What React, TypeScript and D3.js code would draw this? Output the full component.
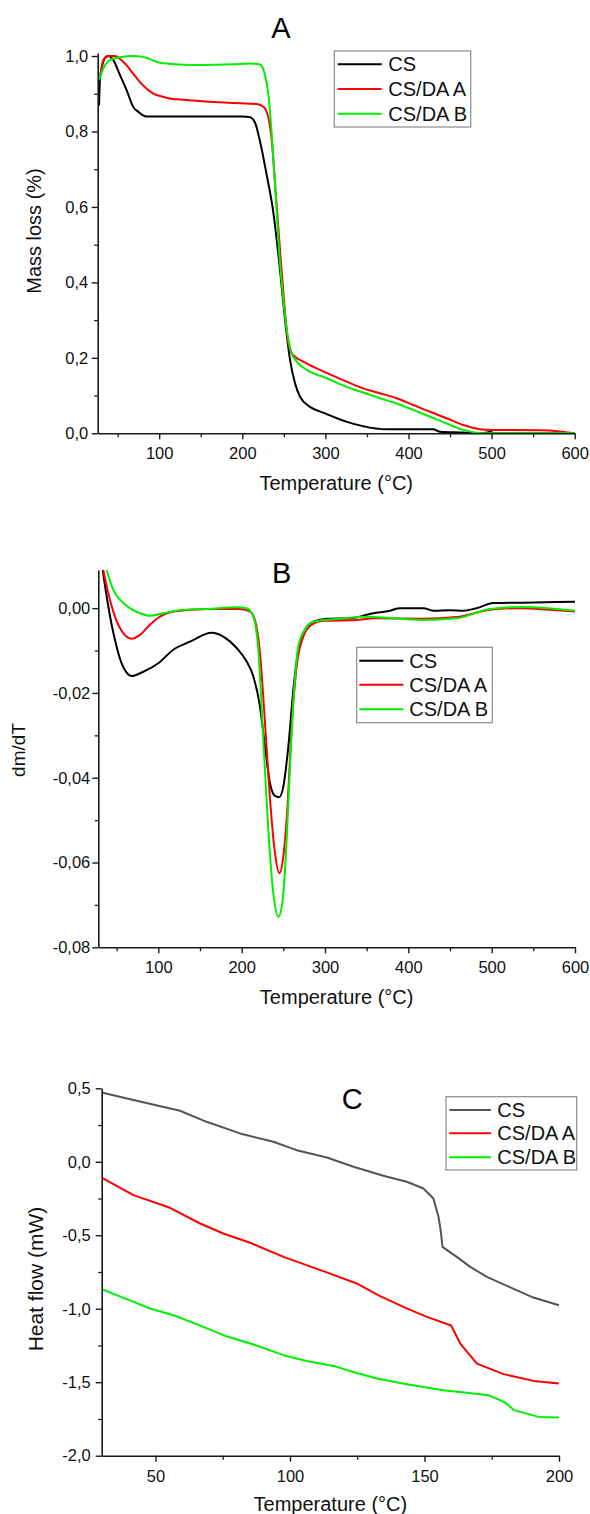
import React, { useEffect, useRef } from "react";
import * as d3 from "d3";

type Pt = [number, number];

const seriesNames = ["CS", "CS/DA A", "CS/DA B"];

// ---- Panel A: TGA (mass loss vs temperature)
const tgaCS: Pt[] = [
  [27.6, 0.869], [28.9, 0.944], [32.7, 0.984], [36.8, 0.999], [38.8, 1.0], [44.8, 0.989],
  [52.9, 0.949], [60.9, 0.909], [68.8, 0.865], [74.9, 0.852], [83.8, 0.84], [120, 0.84],
  [160, 0.84], [200, 0.84], [209, 0.838], [215, 0.825], [221, 0.777], [229, 0.689],
  [237, 0.591], [245, 0.441], [251, 0.309], [257.5, 0.194], [263.4, 0.133], [269.5, 0.097],
  [281.5, 0.07], [299.5, 0.053], [325, 0.031], [345, 0.019], [373.8, 0.0106], [430, 0.0106],
  [438, 0.004], [466, 0.002], [485, 0], [495, 0.002], [499, 0.005], [502, 0], [600, 0],
];
const tgaA: Pt[] = [
  [27.6, 0.944], [28.9, 0.949], [32.7, 0.989], [36, 0.997], [40, 1.0], [46.8, 1.0],
  [53, 0.992], [60.9, 0.975], [68, 0.955], [76.9, 0.931], [85, 0.913], [92.9, 0.9],
  [101, 0.894], [117, 0.886], [125, 0.885], [165, 0.878], [205, 0.874], [217, 0.873],
  [223, 0.869], [227.3, 0.861], [231.3, 0.838], [235.4, 0.777], [239.4, 0.662],
  [245.4, 0.485], [250.2, 0.353], [255.4, 0.238], [258, 0.218], [261.4, 0.207],
  [273.4, 0.19], [293.5, 0.168], [325.6, 0.137], [345.6, 0.119], [365.7, 0.106],
  [385.8, 0.093], [405.8, 0.075], [425.9, 0.057], [446, 0.04], [466, 0.022], [486, 0.011],
  [502, 0.009], [558, 0.008], [582, 0.005], [600, 0],
];
const tgaB: Pt[] = [
  [27.6, 0.936], [32.7, 0.967], [40.8, 0.989], [52.8, 0.997], [68.9, 1.0], [77, 0.999],
  [85, 0.995], [93, 0.988], [101, 0.982], [115, 0.979], [129, 0.977], [155, 0.976],
  [169, 0.977], [190, 0.978], [209, 0.98], [218, 0.979], [221, 0.978], [224, 0.972],
  [227.3, 0.95], [231.3, 0.9], [235.4, 0.794], [239.4, 0.662], [244.2, 0.485],
  [249.4, 0.353], [254.2, 0.265], [259.4, 0.212], [265.5, 0.19], [277.5, 0.168],
  [301.6, 0.146], [325.6, 0.123], [345.6, 0.108], [365.7, 0.093], [385.8, 0.079],
  [405.8, 0.062], [426, 0.044], [446, 0.026], [466, 0.009], [480, 0.002], [490, 0], [600, 0],
];

// ---- Panel B: DTG (dm/dT vs temperature)
const dtgCS: Pt[] = [
  [33.3, 0.009], [40, 0.0004], [48, -0.0075], [56, -0.013], [62, -0.0152], [68, -0.016],
  [82, -0.015], [100, -0.013], [118, -0.0098], [138, -0.0079], [164, -0.0058], [178, -0.0067],
  [194, -0.0094], [206, -0.0126], [214, -0.0161], [222, -0.0232], [228, -0.0327],
  [234, -0.0413], [240, -0.0443], [245, -0.0446], [250, -0.0421], [256, -0.0327],
  [262, -0.0193], [268, -0.0098], [276, -0.0051], [286, -0.0032], [302, -0.0025],
  [330, -0.0024], [358, -0.0012], [378, -0.0006], [390, 0], [418, 0], [430, -0.0006],
  [450, -0.0005], [466, -0.0006], [482, 0], [502, 0.0012], [538, 0.0013], [600, 0.0015],
];
const dtgA: Pt[] = [
  [34, 0.009], [40, 0.0035], [48, -0.002], [58, -0.0059], [68, -0.0072], [78, -0.0063],
  [90, -0.0039], [102, -0.002], [118, -0.0008], [158, -0.0002], [198, -0.0002], [210, -0.0008],
  [216, -0.0028], [222, -0.0106], [228, -0.027], [234, -0.045], [240, -0.0578],
  [245.2, -0.0625], [250, -0.0586], [255, -0.0468], [260, -0.0279], [266, -0.0138],
  [274, -0.0067], [284, -0.0039], [298, -0.003], [338, -0.0028], [358, -0.0024],
  [418, -0.0025], [458, -0.0021], [498, -0.0004], [534, 0], [578, -0.0005], [600, -0.0008],
];
const dtgB: Pt[] = [
  [38, 0.009], [46, 0.0043], [54, 0.002], [66, 0], [78, -0.0012], [90, -0.0018],
  [106, -0.0012], [130, -0.0004], [158, -0.0002], [194, 0.0002], [206, 0], [214, -0.002],
  [220, -0.0098], [226, -0.031], [232, -0.0523], [238, -0.0673], [244, -0.0728],
  [249.3, -0.0688], [254, -0.0547], [258, -0.0374], [263, -0.0193], [268, -0.0091],
  [276, -0.0051], [286, -0.0032], [318, -0.0025], [350, -0.002], [418, -0.0028],
  [458, -0.0024], [498, -0.0002], [538, 0.0003], [600, -0.0006],
];

// ---- Panel C: DSC (heat flow vs temperature)
const dscCS: Pt[] = [
  [30, 0.472], [41.8, 0.42], [59.1, 0.347], [69, 0.272], [81.4, 0.193], [93.8, 0.136],
  [102.5, 0.079], [113.7, 0.029], [123.6, -0.034], [134.7, -0.095], [143.4, -0.136],
  [149.6, -0.182], [153.3, -0.25], [155.2, -0.374], [156, -0.465], [156.7, -0.579],
  [162, -0.647], [167, -0.715], [173.2, -0.783], [181.9, -0.855], [190.5, -0.924], [200, -0.976],
];
const dscA: Pt[] = [
  [30, -0.107], [41.8, -0.227], [55.4, -0.313], [66.6, -0.42], [75.2, -0.488], [85.2, -0.551],
  [97.6, -0.647], [112.4, -0.744], [124.8, -0.828], [133.5, -0.914], [143.4, -0.998],
  [150.9, -1.055], [159.9, -1.114], [163.3, -1.237], [169.5, -1.373], [179.4, -1.445],
  [190.5, -1.491], [200, -1.509],
];
const dscB: Pt[] = [
  [30, -0.867], [39.3, -0.935], [48, -0.998], [56.7, -1.044], [65.3, -1.105], [75.2, -1.18],
  [86.4, -1.243], [97.6, -1.316], [106.2, -1.355], [116.2, -1.389], [123.6, -1.43],
  [132.3, -1.475], [143.4, -1.514], [157, -1.554], [165.7, -1.572], [173.8, -1.588],
  [180, -1.638], [183.3, -1.69], [192.4, -1.736], [200, -1.74],
];

// ---- Tick values
const xMajorTGA = [100, 200, 300, 400, 500, 600];
const xMinorTGA = [50, 150, 250, 350, 450, 550];
const yMajorA = [0, 0.2, 0.4, 0.6, 0.8, 1.0];
const yMinorA = [0.1, 0.3, 0.5, 0.7, 0.9];
const yMajorB = [0, -0.02, -0.04, -0.06, -0.08];
const yMinorB = [-0.01, -0.03, -0.05, -0.07];
const xMajorC = [50, 100, 150, 200];
const xMinorC = [75, 125, 175];
const yMajorC = [0.5, 0, -0.5, -1, -1.5, -2];
const yMinorC = [0.25, -0.25, -0.75, -1.25, -1.75];

const FONT = "'Liberation Sans', Arial, Helvetica, sans-serif";
const AX = "#1a1a1a";
const RED = "#ff0000";
const GREEN = "#00f000";

const panels = [
  {
    letter: "A", letterX: 281, letterY: 38,
    xDomain: [26, 600], yDomain: [0, 1.008],
    left: 97.7, right: 574.7, bottom: 433.3, top: 53,
    xMajor: xMajorTGA, xMinor: xMinorTGA, yMajor: yMajorA, yMinor: yMinorA,
    yFmt: ".1f", yPad: 3.5,
    yLabel: "Mass loss (%)", yLabelX: 41, yLabelY: 231, yLabelSize: 20,
    xLabelY: 490,
    curve: d3.curveMonotoneX,
    colors: ["#000000", RED, GREEN],
    data: [tgaCS, tgaA, tgaB],
    legend: { x0: 334.3, y0: 51, x1: 470.7, y1: 127, rows: [64.3, 89, 113.7], lx0: 337.7, lx1: 381.7, tx: 388.3 },
  },
  {
    letter: "B", letterX: 281.7, letterY: 582.7,
    xDomain: [28, 600], yDomain: [-0.08, 0.009],
    left: 98.3, right: 575, bottom: 947.3, top: 570,
    xMajor: xMajorTGA, xMinor: xMinorTGA, yMajor: yMajorB, yMinor: yMinorB,
    yFmt: ".2f", yPad: 2,
    yLabel: "dm/dT", yLabelX: 25, yLabelY: 750, yLabelSize: 19,
    xLabelY: 1004,
    curve: d3.curveMonotoneX,
    colors: ["#000000", RED, GREEN],
    data: [dtgCS, dtgA, dtgB],
    legend: { x0: 356.7, y0: 647.3, x1: 492.3, y1: 722.7, rows: [660.7, 684.7, 709.3], lx0: 359.3, lx1: 403.3, tx: 409.3 },
  },
  {
    letter: "C", letterX: 352.3, letterY: 1109.3,
    xDomain: [30, 200], yDomain: [-2, 0.5],
    left: 101.7, right: 559, bottom: 1455.7, top: 1088.3,
    xMajor: xMajorC, xMinor: xMinorC, yMajor: yMajorC, yMinor: yMinorC,
    yFmt: ".1f", yPad: 5,
    yLabel: "Heat flow (mW)", yLabelX: 43, yLabelY: 1279, yLabelSize: 21,
    xLabelY: 1511,
    curve: d3.curveLinear,
    colors: ["#555555", RED, GREEN],
    data: [dscCS, dscA, dscB],
    legend: { x0: 446, y0: 1096.7, x1: 576.7, y1: 1170, rows: [1110, 1133.3, 1157.3], lx0: 449.3, lx1: 491, tx: 497.3 },
  },
];

const TICK_FS = 16.5;
const LEGEND_FS = 20;

export default function App() {
  const ref = useRef<SVGSVGElement>(null);

  useEffect(() => {
    const svg = d3.select(ref.current);
    svg.selectAll("*").remove();
    const defs = svg.append("defs");

    panels.forEach((p, i) => {
      const x = d3.scaleLinear().domain(p.xDomain).range([p.left, p.right]);
      const y = d3.scaleLinear().domain(p.yDomain).range([p.bottom, p.top]);
      const clipId = `clip-${i}`;
      defs.append("clipPath").attr("id", clipId).append("rect")
        .attr("x", p.left).attr("y", p.top - 1)
        .attr("width", p.right - p.left + 2).attr("height", p.bottom - p.top + 2);

      const fmt = (v: number) => d3.format(p.yFmt)(v).replace(".", ",").replace("\u2212", "-");

      // curves
      const line = d3.line<Pt>().x((d) => x(d[0])).y((d) => y(d[1])).curve(p.curve);
      p.data.forEach((s, k) => {
        svg.append("path")
          .attr("d", line(s) as string)
          .attr("fill", "none")
          .attr("stroke", p.colors[k])
          .attr("stroke-width", 2)
          .attr("stroke-linejoin", "round")
          .attr("clip-path", `url(#${clipId})`);
      });

      // minor ticks
      const ymin = svg.append("g").attr("transform", `translate(${p.left},0)`)
        .call(d3.axisLeft(y).tickValues(p.yMinor).tickSize(3.5).tickSizeOuter(0).tickFormat(() => ""));
      ymin.select(".domain").remove();
      ymin.selectAll(".tick line").attr("stroke", AX).attr("stroke-width", 1.3);
      const xmin = svg.append("g").attr("transform", `translate(0,${p.bottom})`)
        .call(d3.axisBottom(x).tickValues(p.xMinor).tickSize(4).tickSizeOuter(0).tickFormat(() => ""));
      xmin.select(".domain").remove();
      xmin.selectAll(".tick line").attr("stroke", AX).attr("stroke-width", 1.3);

      // major axes
      const ya = svg.append("g").attr("transform", `translate(${p.left},0)`)
        .call(d3.axisLeft(y).tickValues(p.yMajor).tickSize(6).tickSizeOuter(0).tickPadding(p.yPad).tickFormat(fmt as any));
      ya.attr("font-family", null).attr("font-size", null);
      ya.select(".domain").attr("stroke", AX).attr("stroke-width", 1.6);
      ya.selectAll(".tick line").attr("stroke", AX).attr("stroke-width", 1.4);
      ya.selectAll("text").attr("font-family", FONT).attr("font-size", TICK_FS).attr("fill", "#111");

      const xPad = 26 - 6 - 0.71 * TICK_FS;
      const xa = svg.append("g").attr("transform", `translate(0,${p.bottom})`)
        .call(d3.axisBottom(x).tickValues(p.xMajor).tickSize(6).tickSizeOuter(0).tickPadding(xPad).tickFormat(d3.format("d") as any));
      xa.attr("font-family", null).attr("font-size", null);
      xa.select(".domain").attr("stroke", AX).attr("stroke-width", 1.6);
      xa.selectAll(".tick line").attr("stroke", AX).attr("stroke-width", 1.4);
      xa.selectAll("text").attr("font-family", FONT).attr("font-size", TICK_FS).attr("fill", "#111");

      // axis titles
      svg.append("text")
        .attr("x", (p.left + p.right) / 2)
        .attr("y", p.xLabelY)
        .attr("text-anchor", "middle")
        .attr("font-family", FONT).attr("font-size", 20).attr("fill", "#111")
        .text("Temperature (°C)");
      svg.append("text")
        .attr("transform", `translate(${p.yLabelX},${p.yLabelY}) rotate(-90)`)
        .attr("text-anchor", "middle")
        .attr("font-family", FONT).attr("font-size", p.yLabelSize).attr("fill", "#111")
        .text(p.yLabel);

      // panel letter
      svg.append("text")
        .attr("x", p.letterX).attr("y", p.letterY)
        .attr("text-anchor", "middle")
        .attr("font-family", FONT).attr("font-size", 29).attr("fill", "#000")
        .text(p.letter);

      // legend
      const L = p.legend;
      svg.append("rect")
        .attr("x", L.x0).attr("y", L.y0)
        .attr("width", L.x1 - L.x0).attr("height", L.y1 - L.y0)
        .attr("fill", "#fff").attr("stroke", "#8a8a8a").attr("stroke-width", 1.2);
      seriesNames.forEach((name, k) => {
        svg.append("line")
          .attr("x1", L.lx0).attr("x2", L.lx1)
          .attr("y1", L.rows[k]).attr("y2", L.rows[k])
          .attr("stroke", p.colors[k]).attr("stroke-width", 2);
        svg.append("text")
          .attr("x", L.tx).attr("y", L.rows[k] + 7)
          .attr("font-family", FONT).attr("font-size", LEGEND_FS).attr("fill", "#111")
          .text(name);
      });
    });
  }, []);

  return (
    <svg
      ref={ref}
      width={590}
      height={1514}
      style={{ position: "absolute", left: 0, top: 0, background: "#fff", display: "block" }}
    />
  );
}
